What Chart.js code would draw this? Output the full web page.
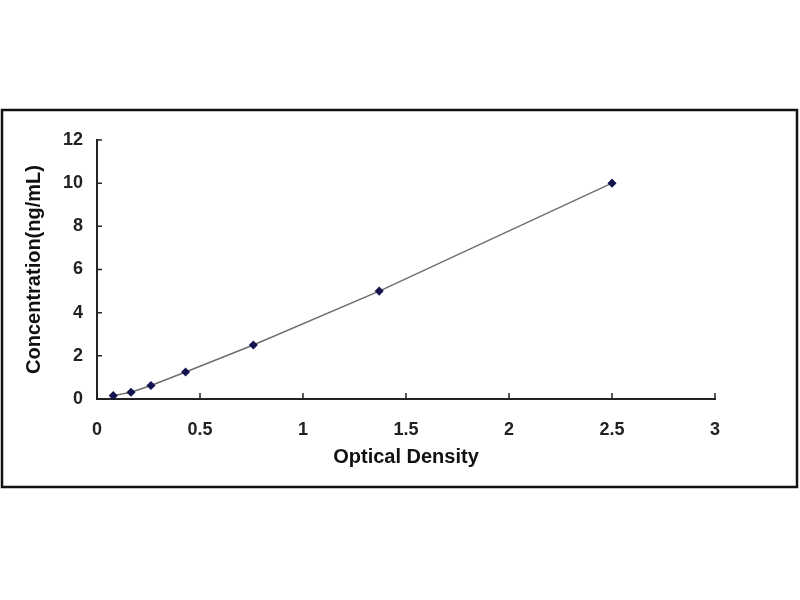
<!DOCTYPE html>
<html>
<head>
<meta charset="utf-8">
<script src="https://cdn.jsdelivr.net/npm/chart.js@4/dist/chart.umd.min.js"></script>
<style>
  html, body { margin: 0; padding: 0; background: #fff; }
  #wrap { width: 800px; height: 600px; position: relative; }
</style>
</head>
<body>
<div id="wrap"><canvas id="chart"></canvas></div>
<script>
// standard curve: optical density vs concentration
const opticalDensity = [0.079, 0.165, 0.262, 0.43, 0.759, 1.37, 2.5];
const concentration = [0.156, 0.312, 0.625, 1.25, 2.5, 5, 10];
const xTicks = [0, 0.5, 1, 1.5, 2, 2.5, 3];
const yTicks = [0, 2, 4, 6, 8, 10, 12];

const points = opticalDensity.map((x, i) => ({ x: x, y: concentration[i] }));

// outer frame + tick marks pointing into the plot
const framePlugin = {
  id: 'frame',
  afterDraw(chart) {
    const ctx = chart.ctx;
    const area = chart.chartArea;
    const xs = chart.scales.x;
    const ys = chart.scales.y;
    ctx.save();
    ctx.strokeStyle = '#222';
    ctx.lineWidth = 1.5;
    ctx.beginPath();
    yTicks.forEach(v => {
      const py = ys.getPixelForValue(v);
      ctx.moveTo(area.left, py);
      ctx.lineTo(area.left + 5, py);
    });
    xTicks.forEach(v => {
      const px = xs.getPixelForValue(v);
      ctx.moveTo(px, area.bottom);
      ctx.lineTo(px, area.bottom - 6);
    });
    ctx.stroke();
    ctx.strokeStyle = '#111';
    ctx.lineWidth = 2.5;
    ctx.strokeRect(2, 110, 795, 377);
    ctx.restore();
  }
};

new Chart(document.getElementById('chart'), {
  type: 'scatter',
  data: {
    datasets: [{
      data: points,
      showLine: true,
      borderColor: '#6e6e6e',
      borderWidth: 1.5,
      backgroundColor: '#141450',
      pointBorderColor: '#141450',
      pointStyle: 'rectRot',
      pointRadius: 3.5,
      tension: 0
    }]
  },
  options: {
    responsive: true,
    maintainAspectRatio: false,
    animation: false,
    layout: { padding: { top: 140, right: 85, left: 0, bottom: 0 } },
    plugins: {
      legend: { display: false },
      tooltip: { enabled: false }
    },
    scales: {
      x: {
        type: 'linear',
        min: 0,
        max: 3,
        afterFit: (s) => { s.height = 201; },
        afterBuildTicks: (s) => { s.ticks = xTicks.map(v => ({ value: v })); },
        grid: { display: false, drawTicks: false },
        border: { display: true, color: '#222', width: 2 },
        ticks: {
          padding: 20,
          color: '#222',
          callback: (v) => String(v),
          font: { family: 'Liberation Sans, Arial', size: 18, weight: 'bold' }
        },
        title: {
          display: true,
          text: 'Optical Density',
          color: '#111',
          padding: { top: 0, bottom: 131 },
          font: { family: 'Liberation Sans, Arial', size: 20, weight: 'bold' }
        }
      },
      y: {
        type: 'linear',
        min: 0,
        max: 12,
        afterFit: (s) => { s.width = 97; },
        afterBuildTicks: (s) => { s.ticks = yTicks.map(v => ({ value: v })); },
        grid: { display: false, drawTicks: false },
        border: { display: true, color: '#222', width: 2 },
        ticks: {
          padding: 14,
          color: '#222',
          callback: (v) => String(v),
          font: { family: 'Liberation Sans, Arial', size: 18, weight: 'bold' }
        },
        title: {
          display: true,
          text: 'Concentration(ng/mL)',
          color: '#111',
          padding: { top: 22, bottom: 0 },
          font: { family: 'Liberation Sans, Arial', size: 20, weight: 'bold' }
        }
      }
    }
  },
  plugins: [framePlugin]
});
</script>
</body>
</html>
